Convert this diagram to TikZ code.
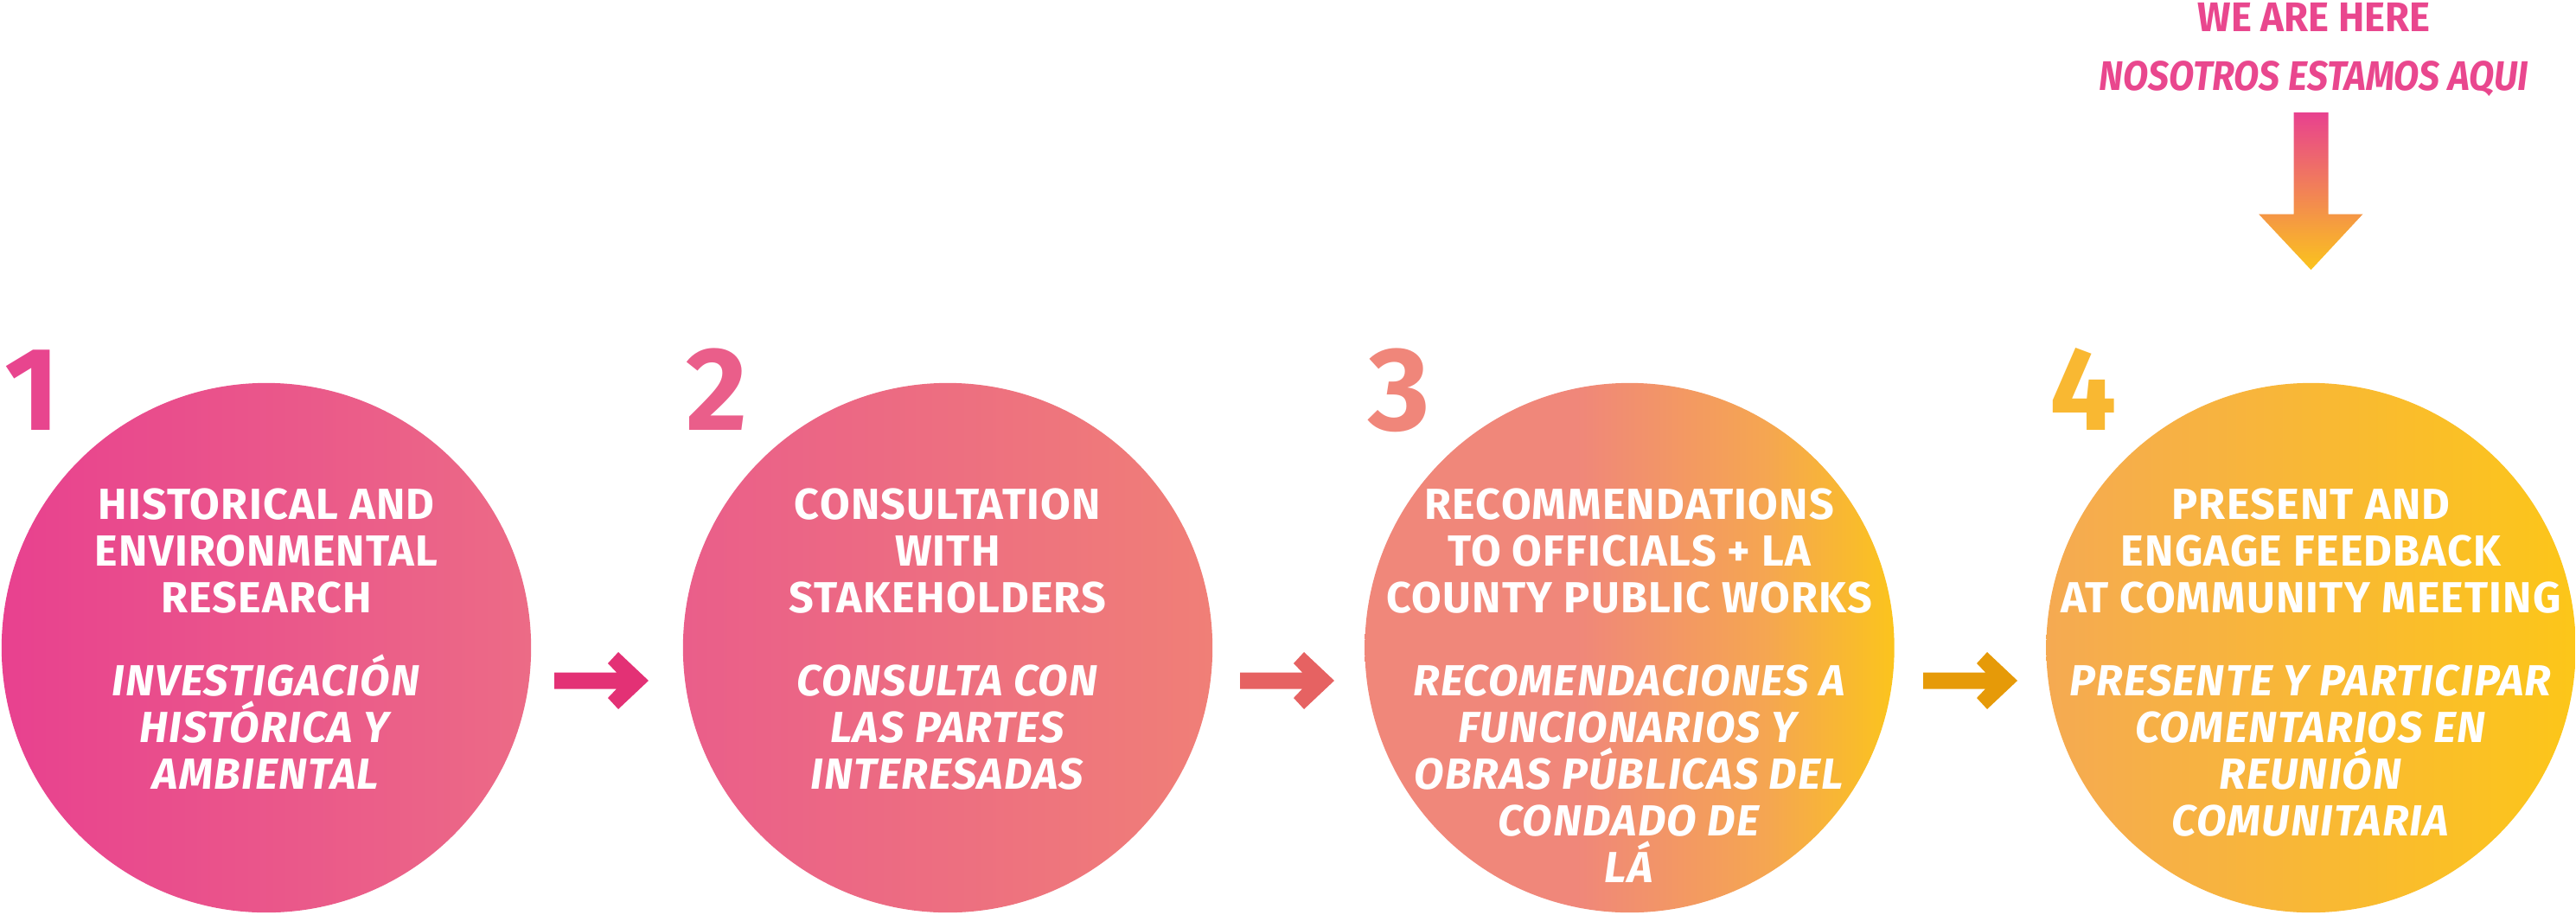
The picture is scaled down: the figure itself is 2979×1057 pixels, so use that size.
\documentclass[tikz,border=0pt]{standalone}
\usepackage{fontspec}
\setmainfont{Fira Sans}[LetterSpace=2.5]
\newfontfamily\herefont[FakeStretch=0.95]{Fira Sans}
\newfontfamily\aquifont[FakeStretch=0.89]{Fira Sans}
\usetikzlibrary{positioning,calc}

\definecolor{onea}{HTML}{E8418F}
\definecolor{oneb}{HTML}{EC6B86}
\definecolor{twoa}{HTML}{EA5E8A}
\definecolor{twob}{HTML}{F07F77}
\definecolor{threea}{HTML}{F0877A}
\definecolor{threeb}{HTML}{F5A651}
\definecolor{threec}{HTML}{FBC41D}
\definecolor{foura}{HTML}{F5AA52}
\definecolor{fourb}{HTML}{FCC619}

\pgfdeclarehorizontalshading{threeshade}{100bp}{color(0bp)=(threea); color(25bp)=(threea); color(45bp)=(threea); color(63bp)=(threeb); color(75bp)=(threec); color(100bp)=(threec)}

\begin{document}
\begin{tikzpicture}[x=0.01cm,y=-0.01cm,
stepcircle/.style={circle,minimum size=6.12cm,inner sep=0pt},
stepnum/.style={anchor=base west,inner sep=0pt,font=\fontsize{39}{39}\selectfont\bfseries},
steptext/.style={anchor=north,inner sep=0pt,text=white,align=center,font=\fontsize{14.3}{15.37}\selectfont\bfseries},
heretext/.style={anchor=base,inner sep=0pt,text=herepink,font=\herefont\fontsize{13.6}{13.6}\selectfont\bfseries}]

\colorlet{herepink}{onea!85!oneb}
\definecolor{arrowone}{HTML}{E33175}
\definecolor{arrowtwo}{HTML}{E66262}
\definecolor{arrowthree}{HTML}{E69A08}

\useasboundingbox (0,0) rectangle (2979,1057);

% circles
\node[stepcircle,left color=onea,right color=oneb] (c1) at (308,749) {};
\node[stepcircle,left color=twoa,right color=twob] (c2) at (1096,749) {};
\node[stepcircle,shading=threeshade] (c3) at (1884.5,749) {};
\node[stepcircle,left color=foura,right color=fourb] (c4) at (2672.5,749) {};

% numbers
\node[stepnum,text=onea!90!oneb] (n1) at ($(c1.west)+(4,-252)$) {1};
\node[stepnum,text=twoa] (n2) at ($(c2.west)+(4,-252)$) {2};
\node[stepnum,text=threea!90!twob] (n3) at ($(c3.west)+(4,-252)$) {3};
\node[stepnum,text=threeb!40!threec] (n4) at ($(c4.west)+(4,-252)$) {4};

% texts
\node[steptext] (t1) at ($(c1.north)+(0,122)$) {HISTORICAL AND\\ENVIRONMENTAL\\RESEARCH\\[0.42cm]
\textit{INVESTIGACIÓN}\\\textit{HISTÓRICA Y}\\\textit{AMBIENTAL}};
\node[steptext] (t2) at ($(c2.north)+(0,122)$) {CONSULTATION\\WITH\\STAKEHOLDERS\\[0.42cm]
\textit{CONSULTA CON}\\\textit{LAS PARTES}\\\textit{INTERESADAS}};
\node[steptext] (t3) at ($(c3.north)+(0,122)$) {RECOMMENDATIONS\\TO OFFICIALS + LA\\COUNTY PUBLIC WORKS\\[0.42cm]
\textit{RECOMENDACIONES A}\\\textit{FUNCIONARIOS Y}\\\textit{OBRAS PÚBLICAS DEL}\\\textit{CONDADO DE}\\\textit{LÁ}};
\node[steptext] (t4) at ($(c4.north)+(0,122)$) {PRESENT AND\\ENGAGE FEEDBACK\\AT COMMUNITY MEETING\\[0.42cm]
\textit{PRESENTE Y PARTICIPAR}\\\textit{COMENTARIOS EN}\\\textit{REUNIÓN}\\\textit{COMUNITARIA}};

% arrows between the steps
\coordinate (a1) at (750,787);
\coordinate (a2) at (1543,787);
\coordinate (a3) at (2333,787);

\fill[arrowone] (a1) ++(-109,-9.5) -- ++(72,0) -- ++(-10,-10.5) -- ++(12,-13) -- (a1)
    -- ++(-35,33) -- ++(-12,-13) -- ++(10,-10.5) -- ++(-72,0) -- cycle;
\fill[arrowtwo] (a2) ++(-109,-9.5) -- ++(72,0) -- ++(-10,-10.5) -- ++(12,-13) -- (a2)
    -- ++(-35,33) -- ++(-12,-13) -- ++(10,-10.5) -- ++(-72,0) -- cycle;
\fill[arrowthree] (a3) ++(-109,-9.5) -- ++(72,0) -- ++(-10,-10.5) -- ++(12,-13) -- (a3)
    -- ++(-35,33) -- ++(-12,-13) -- ++(10,-10.5) -- ++(-72,0) -- cycle;

% we are here
\node[heretext] (here) at (2676,36) {WE ARE HERE};
\node[heretext,font=\aquifont\fontsize{13.6}{13.6}\selectfont\bfseries\itshape] (aqui) at (2676,104) {NOSOTROS ESTAMOS AQUI};

\coordinate (hereend) at (c4.north |- 0,312);
\shade[top color=onea,middle color=threea,bottom color=threec] ($(hereend)+(-20,-182)$) -- ++(40,0) -- ++(0,117.5)
    -- ++(40,0) -- (hereend) -- ++(-60.5,-64.5) -- ++(40.5,0) -- cycle;

\end{tikzpicture}
\end{document}
